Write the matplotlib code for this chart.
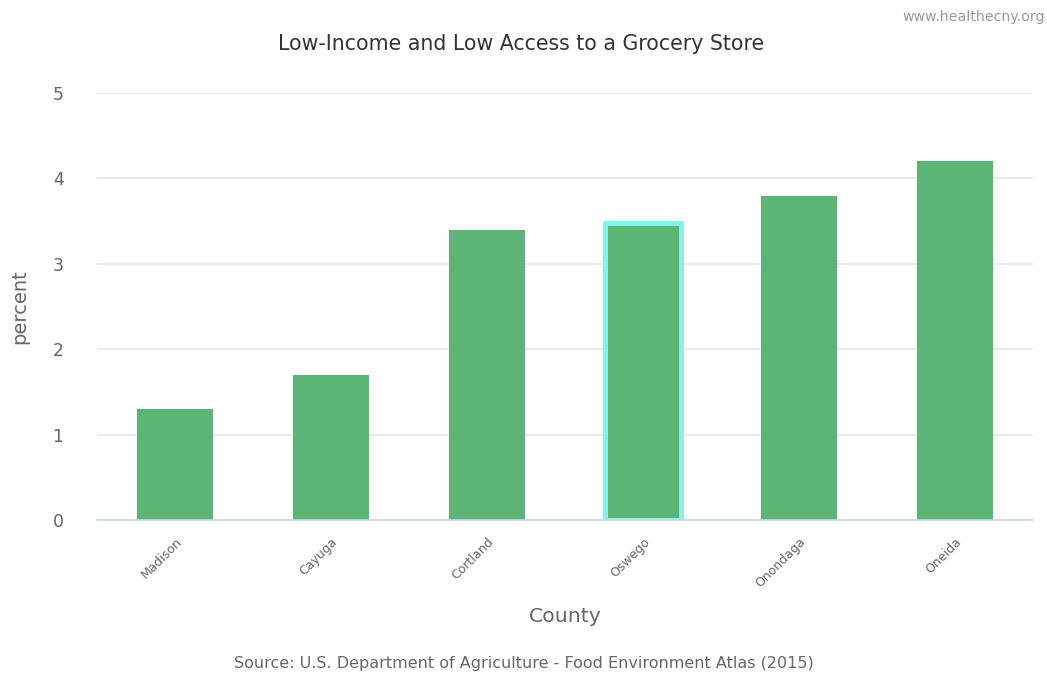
import matplotlib
matplotlib.use("Agg")
import matplotlib.pyplot as plt

counties = ["Madison", "Cayuga", "Cortland", "Oswego", "Onondaga", "Oneida"]
percent = [1.3, 1.7, 3.4, 3.48, 3.8, 4.2]
highlighted = "Oswego"
y_ticks = [0, 1, 2, 3, 4, 5]

bar_color = "#5cb575"
halo_color = "#7ff5f0"
text_color = "#666666"

plt.rcParams["font.family"] = ["DejaVu Sans"]

fig = plt.figure(figsize=(10.47, 6.81), dpi=100)
ax = fig.add_axes([0.0926, 0.2364, 0.894, 0.627])

x = list(range(len(counties)))
bars = ax.bar(x, percent, width=0.49, color=bar_color, zorder=3)
for b, name in zip(bars, counties):
    if name == highlighted:
        b.set_edgecolor(halo_color)
        b.set_linewidth(3.6)

ax.set_xlim(-0.5, len(counties) - 0.5)
ax.set_ylim(0, 5)
ax.set_yticks(y_ticks)
ax.set_yticklabels([str(t) for t in y_ticks], fontsize=12.5, color=text_color)
ax.yaxis.grid(True, color="#e6e6e6", linewidth=1.2, zorder=0)
ax.tick_params(axis="y", length=0, pad=24)
ax.tick_params(axis="x", length=0, pad=11)
ax.set_xticks(x)
ax.set_xticklabels(counties, rotation=45, ha="right", rotation_mode="anchor",
                   fontsize=9, color=text_color)
for s in ["top", "right", "left"]:
    ax.spines[s].set_visible(False)
ax.spines["bottom"].set_color("#ccd6eb")
ax.spines["bottom"].set_linewidth(1.2)
ax.spines["bottom"].set_zorder(4)

ax.set_ylabel("percent", fontsize=14, color=text_color, labelpad=17)
ax.set_xlabel("County", fontsize=14.7, color=text_color, labelpad=12)

fig.text(0.498, 0.935, "Low-Income and Low Access to a Grocery Store",
         ha="center", va="center", fontsize=14.8, color="#333333")
fig.text(0.998, 0.975, "www.healthecny.org", ha="right", va="center",
         fontsize=10.2, color="#999999")
fig.text(0.5, 0.026, "Source: U.S. Department of Agriculture - Food Environment Atlas (2015)",
         ha="center", va="center", fontsize=11.5, color="#666666")

fig.savefig("out.png", dpi=100, facecolor="white")
